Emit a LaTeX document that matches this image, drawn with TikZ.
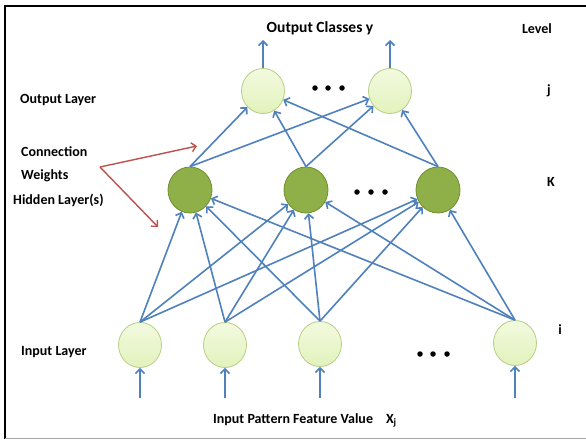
\documentclass[tikz,border=0pt]{standalone}
\usepackage{fontspec}
\setmainfont{Carlito}
\usetikzlibrary{arrows.meta,shapes.geometric}
\definecolor{edgeblue}{HTML}{4F81BD}
\definecolor{lightfill}{HTML}{E2F2BC}
\definecolor{lighttop}{HTML}{F3FADF}
\definecolor{lightdraw}{HTML}{B7CE85}
\definecolor{hidfill}{HTML}{8FB048}
\definecolor{hiddraw}{HTML}{6E8F2E}
\definecolor{redarrow}{HTML}{C0504D}
\tikzset{
  unitnode/.style={ellipse, minimum width=43pt, minimum height=45pt, inner sep=0pt, line width=0.8pt},
  lightnode/.style={unitnode, draw=lightdraw, top color=lighttop, bottom color=lightfill},
  hidnode/.style={unitnode, draw=hiddraw, fill=hidfill, minimum width=44pt, minimum height=46pt},
  conn/.style={draw=edgeblue, line width=1.6pt, -{Straight Barb[length=4.5pt,width=9pt,line width=1.6pt]}},
  pointer/.style={draw=redarrow, line width=1.4pt, -{Straight Barb[length=4.5pt,width=9pt,line width=1.4pt]}},
  lbl/.style={font=\bfseries\fontsize{14}{16}\selectfont, inner sep=0pt},
  dot/.style={circle, fill=black, inner sep=0pt, minimum size=5.5pt}
}
\begin{document}
\begin{tikzpicture}[x=1pt,y=-1pt]
\useasboundingbox (0,0) rectangle (586,439);
\fill[white] (0,0) rectangle (586,439);
% frame
\draw[black, line width=2.5pt] (4.8,439) -- (4.8,6) -- (586,6);
\draw[gray!70, line width=1pt] (4.8,438) -- (586,438);
% nodes
\node[lightnode] (o1) at (263,91) {};
\node[lightnode] (o2) at (390,91) {};
\node[hidnode] (h1) at (190,190) {};
\node[hidnode] (h2) at (306,190) {};
\node[hidnode] (h3) at (438,190) {};
\node[lightnode] (i1) at (140,345) {};
\node[lightnode] (i2) at (225,345) {};
\node[lightnode] (i3) at (320,344) {};
\node[lightnode] (i4) at (515,343) {};
% dots
\node[dot] (d1) at (315,88) {};
\node[dot] (d2) at (328,88) {};
\node[dot] (d3) at (342,88) {};
\node[dot] (d4) at (357,192) {};
\node[dot] (d5) at (371,192) {};
\node[dot] (d6) at (385,192) {};
\node[dot] (d7) at (420,354) {};
\node[dot] (d8) at (433,354) {};
\node[dot] (d9) at (447,354) {};
% connections input -> hidden
\foreach \a in {i1,i2,i3,i4}{
  \foreach \b in {h1,h2,h3}{
    \draw[conn] (\a.north) -- (\b);
  }
}
% hidden -> output
\foreach \a in {h1,h2,h3}{
  \foreach \b in {o1,o2}{
    \draw[conn] (\a.north) -- (\b);
  }
}
% output arrows
\coordinate (t1) at (263,40);
\coordinate (t2) at (390,40);
\draw[conn] (o1.north) -- (t1);
\draw[conn] (o2.north) -- (t2);
% input arrows
\foreach \n/\x in {i1/140,i2/225,i3/320,i4/515}{
  \coordinate (s\n) at (\x,398);
  \draw[conn] (s\n) -- (\n.south);
}
% labels
\node[lbl, font=\bfseries\fontsize{15.5}{17}\selectfont] (oc) at (320,28) {Output Classes y};
\node[lbl] (lev) at (537,29) {Level};
\node[lbl] (lj) at (549,91) {j};
\node[lbl, anchor=west] (ol) at (20,100) {Output Layer};
\node[lbl, anchor=west] (cn) at (21,152) {Connection};
\node[lbl, anchor=west] (wt) at (21,176) {Weights};
\node[lbl, anchor=west] (hl) at (13,200) {Hidden Layer(s)};
\node[lbl] (lk) at (551,182) {K};
\node[lbl] (li) at (560,330) {i};
\node[lbl, anchor=west] (il) at (21,352) {Input Layer};
\node[lbl, anchor=west] (ip) at (213,420) {Input Pattern Feature Value\hspace{13pt}X\textsubscript{j}};
% red pointers
\coordinate (cw) at (100,167);
\coordinate (cwa) at (197,146);
\coordinate (cwb) at (158,227);
\draw[pointer] (cw) -- (cwa);
\draw[pointer] (cw) -- (cwb);
\end{tikzpicture}
\end{document}
